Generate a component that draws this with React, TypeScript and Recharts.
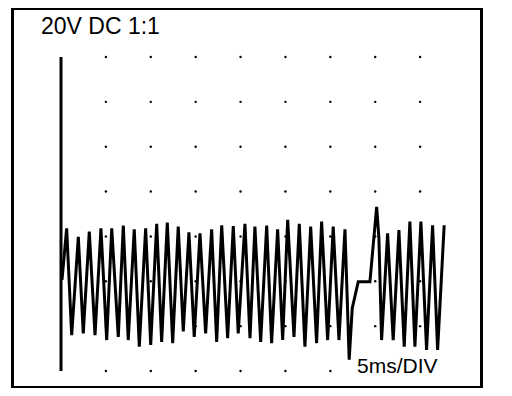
import { LineChart, Line, XAxis, YAxis, ReferenceLine, ReferenceDot } from 'recharts';

// scope trace, time in ms (5 ms per division), level in vertical divisions
const timeMs = [
  0.11, 0.63, 1.19, 1.93, 2.48, 3.15, 3.79, 4.45, 5.09, 5.65,
  6.38, 6.94, 7.49, 8.16, 8.72, 9.43, 9.99, 10.66, 11.21, 11.84,
  12.44, 13.06, 13.62, 14.25, 14.84, 15.48, 16.11, 16.78, 17.34, 17.9,
  18.56, 19.19, 19.74, 20.49, 21.05, 21.6, 22.24, 22.91, 23.46, 24.13,
  24.69, 25.25, 25.95, 26.54, 27.17, 27.81, 28.47, 29.03, 29.7, 30.32,
  30.96, 31.63, 32.1, 32.44, 33.11, 34.41, 35.16, 35.41, 35.71, 36.38,
  37.0, 37.64, 38.23, 38.86, 39.42, 40.09, 40.72, 41.39, 41.95, 42.68,
];

const level = [
  2.03, 3.18, 0.8, 2.99, 0.84, 3.11, 0.8, 3.18, 0.69, 3.18,
  0.76, 3.24, 0.69, 3.16, 0.54, 3.18, 0.58, 3.28, 0.65, 3.31,
  0.62, 3.22, 0.88, 3.09, 0.76, 3.07, 0.84, 3.16, 0.65, 3.25,
  0.73, 3.23, 0.84, 3.28, 0.73, 3.22, 0.65, 3.24, 0.62, 3.16,
  0.69, 3.37, 0.76, 3.28, 0.54, 3.22, 0.62, 3.33, 0.69, 3.22,
  0.69, 3.16, 0.25, 1.4, 1.99, 1.99, 3.66, 2.96, 0.69, 3.07,
  0.69, 3.14, 0.54, 3.33, 0.54, 3.33, 0.47, 3.25, 0.47, 3.25,
];

// graticule dots
const gridTimes = [5, 10, 15, 20, 25, 30, 35, 40];
const gridLevels = [0, 1, 2, 3, 4, 5, 6, 7];

const data = timeMs.map((t, i) => ({ t, v: level[i] }));

const font = '"Liberation Sans", Arial, sans-serif';

export default function App() {
  return (
    <div style={{ position: 'relative', width: 512, height: 396, margin: -8, background: '#fff' }}>
      <div
        style={{
          position: 'absolute',
          left: 11,
          top: 7,
          width: 472,
          height: 382,
          boxSizing: 'border-box',
          border: '3px solid #000',
        }}
      />
      <div style={{ position: 'absolute', left: 0, top: 0 }}>
        <LineChart width={512} height={396} data={data} margin={{ top: 57, right: 47, bottom: 25, left: 61 }}>
          <XAxis type="number" dataKey="t" domain={[0, 45]} hide />
          <YAxis type="number" domain={[0, 7]} hide />
          {gridTimes.map((t) =>
            gridLevels.map((l) => (
              <ReferenceDot key={`${t}-${l}`} x={t} y={l} r={1.2} fill="#000" stroke="none" />
            ))
          )}
          <ReferenceLine x={0} stroke="#000" strokeWidth={3} />
          <Line
            type="linear"
            dataKey="v"
            stroke="#000"
            strokeWidth={3}
            strokeLinejoin="miter"
            dot={false}
            isAnimationActive={false}
          />
        </LineChart>
      </div>
      <div
        style={{
          position: 'absolute',
          left: 41,
          top: 15,
          fontFamily: font,
          fontSize: 23,
          lineHeight: 1,
          color: '#000',
          whiteSpace: 'nowrap',
        }}
      >
        20V DC 1:1
      </div>
      <div
        style={{
          position: 'absolute',
          left: 357,
          top: 355,
          fontFamily: font,
          fontSize: 21,
          lineHeight: 1,
          color: '#000',
          background: '#fff',
          whiteSpace: 'nowrap',
        }}
      >
        5ms/DIV
      </div>
    </div>
  );
}
